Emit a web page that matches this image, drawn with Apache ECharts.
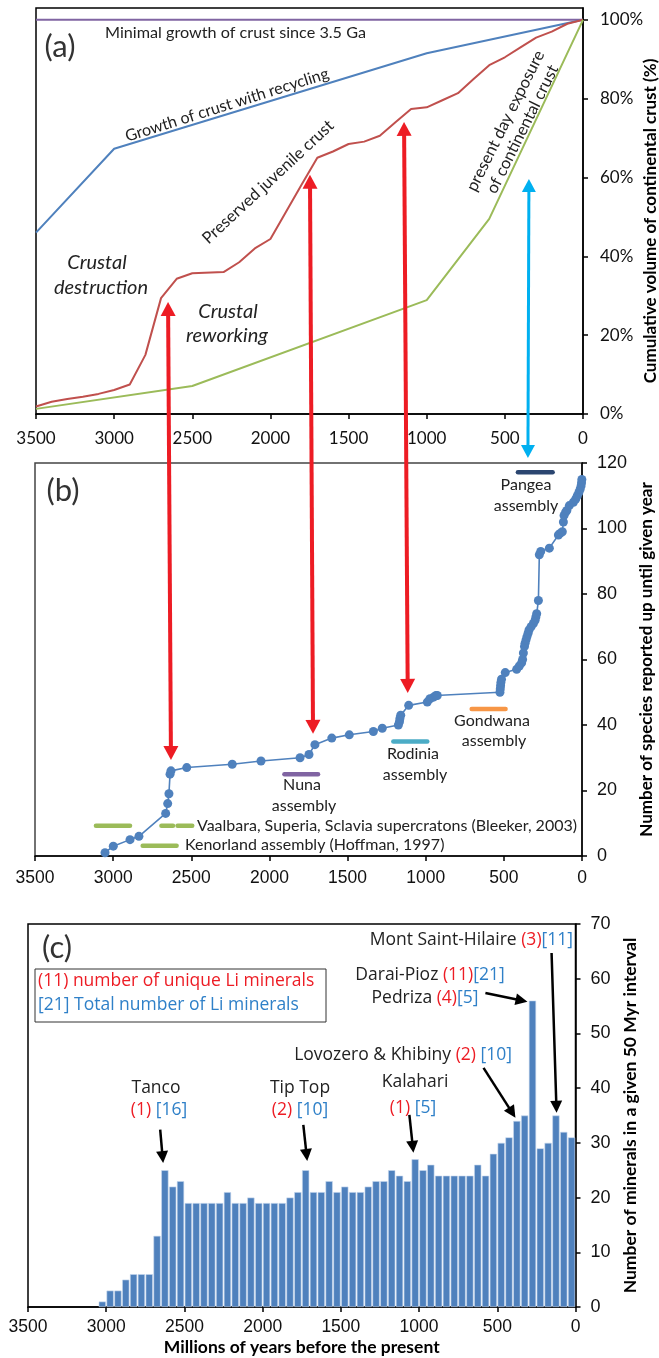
<!DOCTYPE html>
<html><head><meta charset="utf-8">
<script src="https://cdn.jsdelivr.net/npm/echarts@6/dist/echarts.min.js"></script>
<style>html,body{margin:0;padding:0;background:#fff}#c{width:659px;height:1358px}</style>
</head><body><div id="c"></div>
<script>
// ---------------- data ----------------
const pctTicks = [0, 20, 40, 60, 80, 100];

// panel (a): cumulative crust volume (%)
const minimalAges = [3500, 0];
const minimalPct = [100, 100];
const recyclingAges = [3500, 3000, 1000, 0];
const recyclingPct = [46, 67.3, 91.5, 100];
const juvenileAges = [3500,3400,3300,3200,3100,3000,2900,2800,2700,2600,2500,2300,2200,2100,2000,1900,1800,1700,1600,1500,1400,1300,1200,1100,1000,900,800,700,600,500,400,300,200,100,0];
const juvenilePct = [1.9,3.1,3.8,4.4,5.1,6.1,7.5,15,29.4,34.3,35.7,36,38.5,42,44.4,51.3,58.2,65,66.6,68.5,69.1,70.6,74,77.4,77.8,79.6,81.4,85,88.5,90.5,93,95.5,97,99,100];
const exposureAges = [3500, 2500, 1000, 600, 0];
const exposurePct = [1.3, 7.1, 28.9, 49.5, 100];

// panel (b): cumulative number of species
const speciesAges = [3052,2999,2892,2835,2664,2651,2643,2636,2630,2529,2238,2054,1804,1747,1709,1601,1489,1335,1278,1175,1168,1165,1160,1109,990,973,950,934,926,525,523,521,519,515,491,418,401,386,380,375,368,364,358,352,345,339,326,311,300,295,290,279,273,264,209,151,140,126,119,115,105,97,81,55,40,30,20,12,6,3,1];
const speciesCount = [1,3,5,6,13,16,19,25,26,27,28,29,30,31,34,36,37,38,39,40,41,42,43,46,47,48,48.5,49,49,50,51,52,53,54,56,57,58,59,60,62,64,65,66,67,68,69,70,71,72,73,74,78,92,93,94,98,98.5,99,102,104,105,105.5,107,108,109,110,111,112,113,114,115];
const assemblyNames = ['Pangea', 'Gondwana', 'Rodinia', 'Nuna', 'Kenorland'];
const assemblyStart = [410, 706, 1207, 1904, 2811];
const assemblyEnd = [188, 489, 990, 1689, 2594];
const assemblyLevel = [117.2, 44.9, 35, 25, 3.1];
const vaalbaraStart = [3110, 2691, 2588];
const vaalbaraEnd = [2892, 2617, 2494];
const vaalbaraLevel = [9.2, 9.2, 9.2];

// arrows linking (a) and (b)
const linkTopAge = [2655, 1747, 1145, 346];
const linkTopPct = [28.4, 60.7, 74.1, 59.6];
const linkBottomAge = [2630, 1721, 1115, 346];
const linkBottomCount = [29.3, 37.3, 49.8, 121.5];

// panel (c): Li minerals per 50 Myr bin
const binMidAges = [3025,2975,2925,2875,2825,2775,2725,2675,2625,2575,2525,2475,2425,2375,2325,2275,2225,2175,2125,2075,2025,1975,1925,1875,1825,1775,1725,1675,1625,1575,1525,1475,1425,1375,1325,1275,1225,1175,1125,1075,1025,975,925,875,825,775,725,675,625,575,525,475,425,375,325,275,225,175,125,75,25];
const mineralCount = [1,3,3,5,6,6,6,13,25,22,23,19,19,19,19,19,21,19,19,20,19,19,19,19,20,21,25,21,21,23,21,22,21,21,22,23,23,25,24,23,27,25,26,24,24,24,24,24,26,24,28,30,31,34,35,56,29,30,35,32,31];
const siteFromAge = [2655, 1740, 1062, 588, 576, 153];
const siteFromCount = [32.4, 33.3, 35.1, 43.7, 57.4, 64.7];
const siteToAge = [2636, 1715, 1036, 384, 307, 121];
const siteToCount = [26.3, 26.7, 28.2, 34.6, 55.8, 35.5];

// ---------------- chart ----------------
const RED = '#ed1c24', BLUE_T = '#2f80c8', DARK = '#222';
const chart = echarts.init(document.getElementById('c'), null, {renderer: 'canvas'});
const zip = (a, b) => a.map((v, i) => [v, b[i]]);

function xAx(idx, font, size, margin, extra) {
  return Object.assign({
    gridIndex: idx, type: 'value', inverse: true, min: 0, max: 3500, interval: 500,
    axisLine: {show: true, onZero: false, lineStyle: {color: '#000', width: 1.5}},
    axisTick: {show: true, inside: false, length: 5, lineStyle: {color: '#000', width: 1.5}},
    splitLine: {show: false},
    axisLabel: {fontFamily: font, fontSize: size, color: '#111', margin: margin, formatter: v => String(v)}
  }, extra || {});
}
function yAx(idx, max, interval, name, gap, font, nameSize, labelMargin, extra) {
  return Object.assign({
    gridIndex: idx, type: 'value', position: 'right', min: 0, max: max, interval: interval,
    axisLine: {show: true, lineStyle: {color: '#000', width: 1.5}},
    axisTick: {show: true, inside: false, length: 5, lineStyle: {color: '#000', width: 1.5}},
    splitLine: {show: false},
    axisLabel: {fontFamily: font, fontSize: 18, color: '#111', margin: labelMargin},
    name: name, nameLocation: 'middle', nameRotate: 90, nameGap: gap,
    nameTextStyle: {fontFamily: 'Lato', fontWeight: 'bold', fontSize: nameSize, color: '#000'}
  }, extra || {});
}

const lineS = (x, y, color, idx, w) => ({
  type: 'line', xAxisIndex: idx, yAxisIndex: idx, data: zip(x, y), showSymbol: false,
  lineStyle: {color: color, width: w || 2}, itemStyle: {color: color}, silent: true, clip: false
});

const series = [
  lineS(minimalAges, minimalPct, '#8064a2', 0),
  lineS(recyclingAges, recyclingPct, '#4f81bd', 0),
  lineS(juvenileAges, juvenilePct, '#c0504d', 0),
  lineS(exposureAges, exposurePct, '#9bbb59', 0)
];
const assemblyColors = ['#2b4670', '#f79646', '#4bacc6', '#8064a2', '#9bbb59'];
assemblyNames.forEach((n, i) => {
  series.push({type: 'line', name: n, xAxisIndex: 1, yAxisIndex: 1, showSymbol: false, clip: false,
    data: [[assemblyStart[i], assemblyLevel[i]], [assemblyEnd[i], assemblyLevel[i]]],
    lineStyle: {color: assemblyColors[i], width: 4.5, cap: 'round'}});
});
vaalbaraStart.forEach((s, i) => {
  series.push({type: 'line', xAxisIndex: 1, yAxisIndex: 1, showSymbol: false, clip: false,
    data: [[s, vaalbaraLevel[i]], [vaalbaraEnd[i], vaalbaraLevel[i]]],
    lineStyle: {color: '#9bbb59', width: 4.5, cap: 'round'}});
});
series.push({type: 'line', xAxisIndex: 1, yAxisIndex: 1, data: zip(speciesAges, speciesCount),
  symbol: 'circle', symbolSize: 9, clip: false,
  itemStyle: {color: '#4f81bd'}, lineStyle: {color: '#4f81bd', width: 1.6}});
series.push({type: 'bar', xAxisIndex: 2, yAxisIndex: 2, data: zip(binMidAges, mineralCount),
  barWidth: 7.2, itemStyle: {color: '#4f81bd', borderColor: '#c8d8ee', borderWidth: 0.6}});

chart.setOption({
  animation: false,
  grid: [
    {left: 36, top: 8, width: 547, height: 406, show: true, borderColor: '#000', borderWidth: 1.5, containLabel: false, outerBoundsMode: 'none'},
    {left: 35, top: 463, width: 547, height: 393, show: true, borderColor: '#444', borderWidth: 1.5, containLabel: false, outerBoundsMode: 'none'},
    {left: 28, top: 924, width: 547.5, height: 383, show: true, borderColor: '#000', borderWidth: 1.5, containLabel: false, outerBoundsMode: 'none'}
  ],
  xAxis: [
    xAx(0, 'Lato', 17, 16),
    xAx(1, 'Liberation Sans', 17.5, 13),
    xAx(2, 'Liberation Sans', 17.5, 11, {name: 'Millions of years before the present', nameLocation: 'middle', nameGap: 31,
      nameTextStyle: {fontFamily: 'Lato', fontWeight: 'bold', fontSize: 17.5, color: '#000'}})
  ],
  yAxis: [
    yAx(0, 103, 20, '', 0, 'Lato', 17, 17, {
      axisLabel: {fontFamily: 'Lato', fontSize: 17, color: '#111', margin: 17, formatter: '{value}%', customValues: pctTicks},
      axisTick: {show: true, inside: false, length: 5, lineStyle: {color: '#000', width: 1.5}, customValues: pctTicks}
    }),
    yAx(1, 120, 20, 'Number of species reported up until given year', 46, 'Liberation Sans', 17, 15),
    yAx(2, 70, 10, 'Number of minerals in a given 50 Myr interval', 37, 'Liberation Sans', 17.5, 15)
  ],
  series: series
});

// ---------------- annotations ----------------
const px = (i, p) => chart.convertToPixel({xAxisIndex: i, yAxisIndex: i}, p);
function arrow(p0, p1, color, width, headL, headW, both) {
  const dx = p1[0] - p0[0], dy = p1[1] - p0[1], len = Math.hypot(dx, dy);
  const ux = dx / len, uy = dy / len, nx = -uy, ny = ux;
  const s0 = both ? [p0[0] + ux * headL * 0.8, p0[1] + uy * headL * 0.8] : p0;
  const s1 = [p1[0] - ux * headL * 0.8, p1[1] - uy * headL * 0.8];
  const head = (t, vx, vy) => ({type: 'polygon', z: 100, silent: true,
    shape: {points: [[t[0], t[1]], [t[0] - vx * headL + nx * headW, t[1] - vy * headL + ny * headW], [t[0] - vx * headL - nx * headW, t[1] - vy * headL - ny * headW]]},
    style: {fill: color}});
  const els = [{type: 'line', z: 99, silent: true, shape: {x1: s0[0], y1: s0[1], x2: s1[0], y2: s1[1]}, style: {stroke: color, lineWidth: width}}];
  els.push(head(p1, ux, uy));
  if (both) els.push(head(p0, -ux, -uy));
  return els;
}
function txt(x, y, text, o) {
  o = o || {};
  const st = {text: text, fontFamily: o.font || 'Lato', fontSize: o.size || 15, fill: o.color || DARK,
    fontStyle: o.italic ? 'italic' : 'normal', fontWeight: o.bold ? 'bold' : 'normal',
    align: o.align || 'center', verticalAlign: 'middle', textAlign: o.align || 'center', textVerticalAlign: 'middle',
    lineHeight: o.lh || undefined};
  if (o.rich) st.rich = o.rich;
  return {type: 'text', x: x, y: y, rotation: (o.rot || 0) * Math.PI / 180, z: 101, silent: true, style: st};
}
const CF = 'Open Sans', CS = 17.5;
const rich = {
  r: {fill: RED, fontFamily: CF, fontSize: CS},
  b: {fill: BLUE_T, fontFamily: CF, fontSize: CS},
  k: {fill: DARK, fontFamily: CF, fontSize: CS}
};
const ctext = (x, y, t, align) => txt(x, y, t, {font: CF, size: CS, rich: rich, align: align});

let els = [];
linkTopAge.forEach((a, i) => {
  const top = px(0, [a, linkTopPct[i]]);
  const bot = px(1, [linkBottomAge[i], linkBottomCount[i]]);
  const blue = i === 3;
  els = els.concat(arrow(top, bot, blue ? '#00b0f0' : RED, blue ? 3 : 4, blue ? 13 : 14, blue ? 7 : 7.5, true));
});
siteFromAge.forEach((a, i) => {
  els = els.concat(arrow(px(2, [a, siteFromCount[i]]), px(2, [siteToAge[i], siteToCount[i]]), '#000', 2.5, 12, 6, false));
});

// panel (a) texts
els.push(txt(651, 221, 'Cumulative volume of continental crust (%)', {rot: 90, size: 17, bold: true, color: '#000'}));
els.push(txt(60, 47, '(a)', {size: 31, color: '#333'}));
els.push(txt(105, 33, 'Minimal growth of crust since 3.5 Ga', {align: 'left', size: 16.2}));
els.push(txt(227, 105, 'Growth of crust with recycling', {rot: 17.5, size: 16}));
els.push(txt(268, 182, 'Preserved juvenile crust', {rot: 43, size: 16.5}));
els.push(txt(514, 125, 'present day exposure\nof continental crust', {rot: 63.5, size: 16.5, lh: 19}));
els.push(txt(97, 263, 'Crustal', {italic: true, size: 20}));
els.push(txt(101, 288, 'destruction', {italic: true, size: 20}));
els.push(txt(228, 312, 'Crustal', {italic: true, size: 20}));
els.push(txt(227, 336, 'reworking', {italic: true, size: 20}));

// panel (b) texts
els.push(txt(63, 491, '(b)', {size: 31, color: '#333'}));
els.push(txt(526, 485, 'Pangea', {size: 16}));
els.push(txt(526, 506, 'assembly', {size: 16}));
els.push(txt(492, 721, 'Gondwana', {size: 16}));
els.push(txt(494, 741, 'assembly', {size: 16}));
els.push(txt(413, 754, 'Rodinia', {size: 16}));
els.push(txt(415, 775, 'assembly', {size: 16}));
els.push(txt(302, 785, 'Nuna', {size: 16}));
els.push(txt(304, 806, 'assembly', {size: 16}));
els.push(txt(197, 826, 'Vaalbara, Superia, Sclavia supercratons (Bleeker, 2003)', {align: 'left', size: 16}));
els.push(txt(185, 845, 'Kenorland assembly (Hoffman, 1997)', {align: 'left', size: 16}));

// panel (c) texts
els.push(txt(57, 948, '(c)', {size: 31, color: '#333'}));
els.push({type: 'rect', z: 100, silent: true, shape: {x: 35, y: 969, width: 291, height: 53}, style: {fill: '#fff', stroke: '#333', lineWidth: 1}});
els.push(txt(38, 981, '(11) number of unique Li minerals', {align: 'left', font: CF, size: CS, color: RED}));
els.push(txt(38, 1005, '[21] Total number of Li minerals', {align: 'left', font: CF, size: CS, color: BLUE_T}));
els.push(ctext(573, 940, '{k|Mont Saint-Hilaire }{r|(3)}{b|[11]}', 'right'));
els.push(ctext(430, 975, '{k|Darai-Pioz }{r|(11)}{b|[21]}'));
els.push(ctext(425, 998, '{k|Pedriza }{r|(4)}{b|[5]}'));
els.push(ctext(512, 1055, '{k|Lovozero & Khibiny }{r|(2) }{b|[10]}', 'right'));
els.push(ctext(415, 1082, '{k|Kalahari}'));
els.push(ctext(413, 1108, '{r|(1) }{b|[5]}'));
els.push(ctext(156, 1088, '{k|Tanco}'));
els.push(ctext(159, 1110, '{r|(1) }{b|[16]}'));
els.push(ctext(300, 1088, '{k|Tip Top}'));
els.push(ctext(300, 1110, '{r|(2) }{b|[10]}'));

chart.setOption({graphic: els});
</script></body></html>
